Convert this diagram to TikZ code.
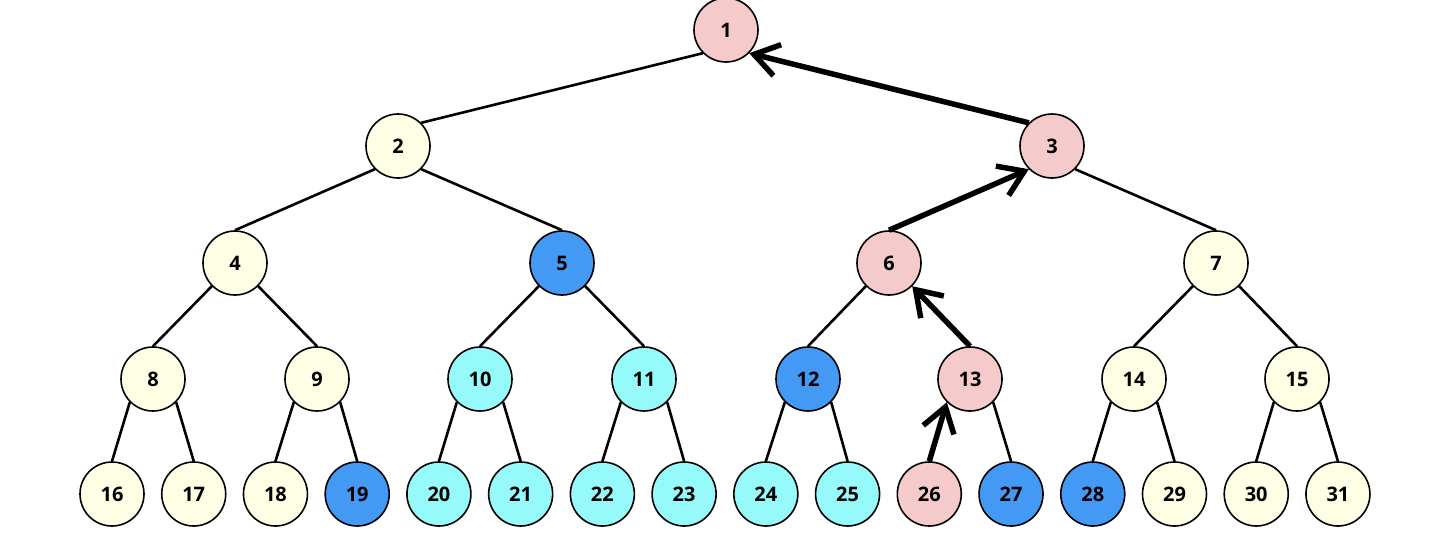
\documentclass[tikz,border=0pt]{standalone}
\usepackage{fontspec}
\setmainfont{Open Sans}
\usetikzlibrary{arrows.meta}
\definecolor{pinkc}{RGB}{245,202,202}
\definecolor{yelc}{RGB}{255,255,230}
\definecolor{cyanc}{RGB}{150,250,250}
\definecolor{bluec}{RGB}{68,153,245}
\begin{document}
\begin{tikzpicture}[x=1pt,y=-1pt,
  vnode/.style={circle,draw=black,line width=1.6pt,minimum size=64pt,inner sep=0pt,font=\fontsize{20}{20}\selectfont\bfseries},
  pk/.style={vnode,fill=pinkc},
  yl/.style={vnode,fill=yelc},
  cy/.style={vnode,fill=cyanc},
  bl/.style={vnode,fill=bluec},
  edge/.style={line width=2.6pt},
  hot/.style={line width=5.5pt,-{Straight Barb[length=24pt,width=32pt,line width=5.5pt]}}]
\useasboundingbox (0,0) rectangle (1456,552);
% level 0-3
\node[pk] (n1) at (726,30) {1};
\node[yl] (n2) at (398,146) {2};
\node[pk] (n3) at (1052,146) {3};
\node[yl] (n4) at (235,263) {4};
\node[bl] (n5) at (562,263) {5};
\node[pk] (n6) at (889,263) {6};
\node[yl] (n7) at (1216,263) {7};
\node[yl] (n8) at (153,379) {8};
\node[yl] (n9) at (317,379) {9};
\node[cy] (n10) at (480,379) {10};
\node[cy] (n11) at (644,379) {11};
\node[bl] (n12) at (808,379) {12};
\node[pk] (n13) at (970,379) {13};
\node[yl] (n14) at (1134,379) {14};
\node[yl] (n15) at (1297,379) {15};
% level 4
\foreach \i/\s in {16/yl,17/yl,18/yl,19/bl,20/cy,21/cy,22/cy,23/cy,24/cy,25/cy,26/pk,27/bl,28/bl,29/yl,30/yl,31/yl}{
  \pgfmathsetmacro{\xx}{112+(\i-16)*81.73}
  \node[\s] (n\i) at (\xx,494) {\i};
}
% thin edges
\draw[edge] (n1.south west) -- (n2.north east);
\foreach \p/\c in {2/4,4/8,5/10,6/12,7/14,8/16,9/18,10/20,11/22,12/24,14/28,15/30}{
  \draw[edge] (n\p.south west) -- (n\c.north);
}
\foreach \p/\c in {2/5,3/7,4/9,5/11,7/15,8/17,9/19,10/21,11/23,12/25,13/27,14/29,15/31}{
  \draw[edge] (n\p.south east) -- (n\c.north);
}
% highlighted path
\draw[hot] (n3.north west) -- (n1.south east);
\draw[hot] (n6.north) -- (n3.south west);
\draw[hot] (n13.north) -- (n6.south east);
\draw[hot] (n26.north) -- (n13.south west);
\end{tikzpicture}
\end{document}
